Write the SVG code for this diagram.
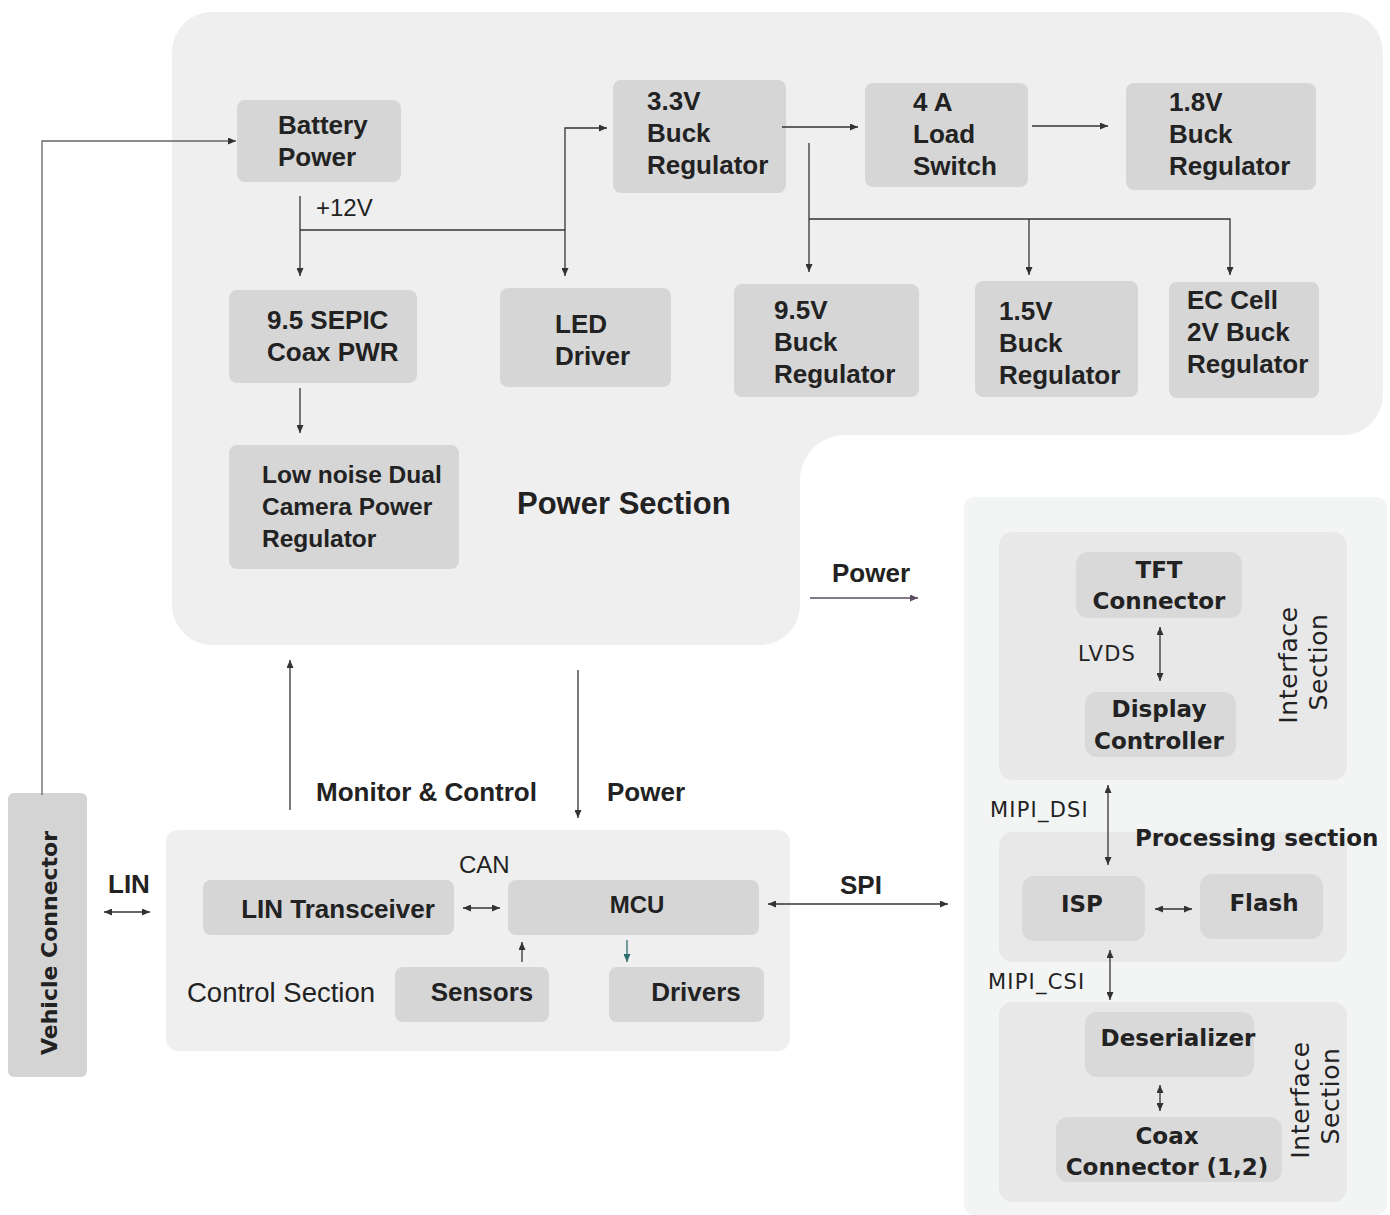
<svg xmlns="http://www.w3.org/2000/svg" width="1390" height="1215" viewBox="0 0 1390 1215">
<defs>
<marker id="arr" viewBox="0 0 8 7" refX="8" refY="3.5" markerWidth="8" markerHeight="7" markerUnits="userSpaceOnUse" orient="auto-start-reverse"><path d="M0,0 L8,3.5 L0,7 z" fill="#333"/></marker>
<marker id="arrP" viewBox="0 0 8 7" refX="8" refY="3.5" markerWidth="8" markerHeight="7" markerUnits="userSpaceOnUse" orient="auto-start-reverse"><path d="M0,0 L8,3.5 L0,7 z" fill="#5a4e60"/></marker>
<marker id="arrT" viewBox="0 0 8 7" refX="8" refY="3.5" markerWidth="8" markerHeight="7" markerUnits="userSpaceOnUse" orient="auto-start-reverse"><path d="M0,0 L8,3.5 L0,7 z" fill="#2e6b6b"/></marker>
<style>
.n{fill:#d6d6d7}
.rn{fill:#d9d9da}
.t{font-family:"Liberation Sans",Arial,sans-serif;font-weight:bold;font-size:26px;fill:#222}
.r{font-family:"DejaVu Sans",sans-serif;font-weight:bold;font-size:23px;fill:#222;text-anchor:middle}
.lab{font-family:"DejaVu Sans",sans-serif;font-size:21px;fill:#222;letter-spacing:1.2px}
.rot{font-family:"DejaVu Sans",sans-serif;font-size:25px;fill:#222;text-anchor:middle;letter-spacing:0.6px}
.c{fill:none;stroke:#333;stroke-width:1.3}
.d{marker-end:url(#arr)}
.dd{marker-start:url(#arr);marker-end:url(#arr)}
</style>
</defs>
<rect width="1390" height="1215" fill="#ffffff"/>
<g id="power-section">
<path d="M212 12 H1343 A40 40 0 0 1 1383 52 V395 A40 40 0 0 1 1343 435 H845 A45 45 0 0 0 800 480 V605 A40 40 0 0 1 760 645 H212 A40 40 0 0 1 172 605 V52 A40 40 0 0 1 212 12 Z" fill="#efeff0"/>
<text class="t" x="517" y="514" style="font-size:31px">Power Section</text>
</g>
<g id="control-section">
<rect x="166" y="830" width="624" height="221" rx="12" fill="#efeff0"/>
<text class="t" x="187" y="1002" style="font-weight:normal;font-size:27.5px">Control Section</text>
</g>
<g id="right-panel">
<rect x="964" y="497" width="423" height="718" rx="10" fill="#f3f4f4"/>
</g>
<g id="interface-top">
<rect x="999" y="532" width="348" height="248" rx="14" fill="#e8e8e9"/>
<text class="rot" transform="translate(1297 665) rotate(-90)">Interface</text>
<text class="rot" transform="translate(1327 662) rotate(-90)">Section</text>
</g>
<g id="processing">
<rect x="999" y="832" width="348" height="130" rx="14" fill="#e8e8e9"/>
<text class="r" x="1135" y="846" style="text-anchor:start">Processing section</text>
</g>
<g id="interface-bottom">
<rect x="999" y="1002" width="348" height="200" rx="14" fill="#e8e8e9"/>
<text class="rot" transform="translate(1309 1100) rotate(-90)">Interface</text>
<text class="rot" transform="translate(1339 1096) rotate(-90)">Section</text>
</g>

<g id="battery"><rect class="n" x="237" y="100" width="164" height="82" rx="8"/><text class="t" x="278" y="134">Battery<tspan x="278" dy="32">Power</tspan></text></g>
<g id="buck33"><rect class="n" x="613" y="80" width="173" height="113" rx="8"/><text class="t" x="647" y="110">3.3V<tspan x="647" dy="32">Buck</tspan><tspan x="647" dy="32">Regulator</tspan></text></g>
<g id="loadswitch"><rect class="n" x="865" y="83" width="163" height="104" rx="8"/><text class="t" x="913" y="111">4 A<tspan x="913" dy="32">Load</tspan><tspan x="913" dy="32">Switch</tspan></text></g>
<g id="buck18"><rect class="n" x="1126" y="83" width="190" height="107" rx="8"/><text class="t" x="1169" y="111">1.8V<tspan x="1169" dy="32">Buck</tspan><tspan x="1169" dy="32">Regulator</tspan></text></g>
<g id="sepic"><rect class="n" x="229" y="290" width="188" height="93" rx="8"/><text class="t" x="267" y="329">9.5 SEPIC<tspan x="267" dy="32">Coax PWR</tspan></text></g>
<g id="led"><rect class="n" x="500" y="288" width="171" height="99" rx="8"/><text class="t" x="555" y="333">LED<tspan x="555" dy="32">Driver</tspan></text></g>
<g id="buck95"><rect class="n" x="734" y="284" width="185" height="113" rx="8"/><text class="t" x="774" y="319">9.5V<tspan x="774" dy="32">Buck</tspan><tspan x="774" dy="32">Regulator</tspan></text></g>
<g id="buck15"><rect class="n" x="975" y="281" width="163" height="116" rx="8"/><text class="t" x="999" y="320">1.5V<tspan x="999" dy="32">Buck</tspan><tspan x="999" dy="32">Regulator</tspan></text></g>
<g id="eccell"><rect class="n" x="1169" y="282" width="150" height="116" rx="8"/><text class="t" x="1187" y="309">EC Cell<tspan x="1187" dy="32">2V Buck</tspan><tspan x="1187" dy="32">Regulator</tspan></text></g>
<g id="lownoise"><rect class="n" x="229" y="445" width="230" height="124" rx="8"/><text class="t" x="262" y="483" style="font-size:24.5px">Low noise Dual<tspan x="262" dy="32">Camera Power</tspan><tspan x="262" dy="32">Regulator</tspan></text></g>

<g id="vehicle"><rect x="8" y="793" width="79" height="284" rx="6" fill="#d4d4d5"/><text class="r" style="font-size:22px" transform="translate(57 943) rotate(-90)">Vehicle Connector</text></g>
<g id="lin"><rect class="n" x="203" y="880" width="251" height="55" rx="8"/><text class="t" x="338" y="918" text-anchor="middle">LIN Transceiver</text></g>
<g id="mcu"><rect class="n" x="508" y="880" width="251" height="55" rx="8"/><text class="t" x="637" y="913" text-anchor="middle" style="font-size:24px">MCU</text></g>
<g id="sensors"><rect class="n" x="395" y="967" width="154" height="55" rx="8"/><text class="t" x="482" y="1001" text-anchor="middle">Sensors</text></g>
<g id="drivers"><rect class="n" x="609" y="967" width="155" height="55" rx="8"/><text class="t" x="696" y="1001" text-anchor="middle">Drivers</text></g>

<g id="tft"><rect class="rn" x="1076" y="552" width="166" height="66" rx="12"/><text class="r" x="1159" y="578">TFT<tspan x="1159" dy="31">Connector</tspan></text></g>
<g id="display"><rect class="rn" x="1085" y="692" width="151" height="65" rx="12"/><text class="r" x="1159" y="717">Display<tspan x="1159" dy="32">Controller</tspan></text></g>
<g id="isp"><rect class="rn" x="1022" y="876" width="123" height="65" rx="12"/><text class="r" x="1082" y="912">ISP</text></g>
<g id="flash"><rect class="rn" x="1200" y="874" width="123" height="65" rx="12"/><text class="r" x="1264" y="911">Flash</text></g>
<g id="deser"><rect class="rn" x="1085" y="1012" width="169" height="65" rx="12"/><text class="r" x="1178" y="1046">Deserializer</text></g>
<g id="coax"><rect class="rn" x="1056" y="1117" width="226" height="65" rx="12"/><text class="r" x="1167" y="1144">Coax<tspan x="1167" dy="31">Connector (1,2)</tspan></text></g>

<g id="connectors">
<path class="c d" d="M42 795 V141 H236" style="stroke:#666"/>
<path class="c d" d="M300 196 V276"/>
<path class="c" d="M300 230 H565"/>
<path class="c d" d="M565 230 V276"/>
<path class="c d" d="M565 230 V128 H607"/>
<path class="c d" d="M782 127 H858"/>
<path class="c d" d="M1032 126 H1108"/>
<path class="c d" d="M809 143 V272"/>
<path class="c d" d="M809 219 H1230 V275"/>
<path class="c d" d="M1029 219 V275"/>
<path class="c d" d="M300 388 V433"/>
<path class="c" d="M810 598 H918" style="stroke:#5a4e60" marker-end="url(#arrP)"/>
<path class="c d" d="M290 810 V660"/>
<path class="c d" d="M578 670 V818"/>
<path class="c dd" d="M104 912 H150"/>
<path class="c dd" d="M463 908 H500"/>
<path class="c d" d="M522 962 V942"/>
<path class="c" d="M627 940 V962" style="stroke:#2e6b6b" marker-end="url(#arrT)"/>
<path class="c dd" d="M768 904 H948"/>
<path class="c dd" d="M1160 627 V681"/>
<path class="c dd" d="M1108 785 V865"/>
<path class="c dd" d="M1155 909 H1192"/>
<path class="c dd" d="M1110 950 V1000"/>
<path class="c dd" d="M1160 1085 V1111"/>
<text class="t" x="316" y="216" style="font-size:24px;font-weight:normal">+12V</text>
<text class="t" x="832" y="582">Power</text>
<text class="t" x="316" y="801">Monitor &amp; Control</text>
<text class="t" x="607" y="801">Power</text>
<text class="t" x="459" y="873" style="font-size:24px;font-weight:normal">CAN</text>
<text class="t" x="108" y="893">LIN</text>
<text class="t" x="840" y="894">SPI</text>
<text class="lab" x="1078" y="661">LVDS</text>
<text class="lab" x="990" y="817">MIPI_DSI</text>
<text class="lab" x="988" y="989">MIPI_CSI</text>
</g>
</svg>
